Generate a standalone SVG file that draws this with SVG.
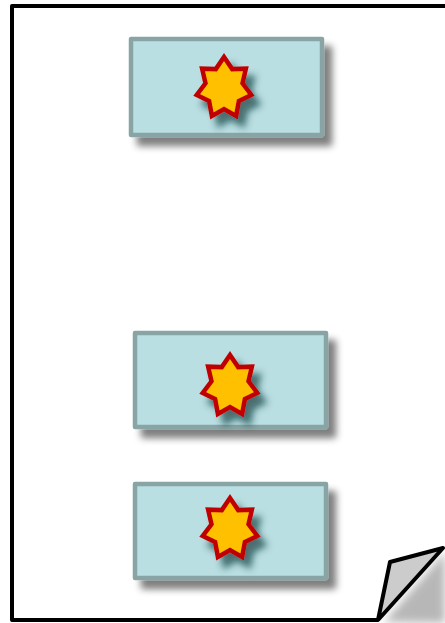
<svg xmlns="http://www.w3.org/2000/svg" width="445" height="623" viewBox="0 0 445 623">
<defs>
<style>
.box{fill:#b9dfe3;stroke:#88a4a4;stroke-width:4.5;stroke-linejoin:round}
.star{fill:#ffc000;stroke:#c00000;stroke-width:4.5;stroke-linejoin:miter}
.page{fill:none;stroke:#000;stroke-width:4;stroke-linejoin:round}
</style>
<filter id="sh" x="-20%" y="-20%" width="150%" height="160%">
<feGaussianBlur in="SourceAlpha" stdDeviation="3.5"/>
<feOffset dx="8" dy="9" result="b"/>
<feFlood flood-color="#000" flood-opacity="0.5"/>
<feComposite in2="b" operator="in"/>
<feMerge><feMergeNode/><feMergeNode in="SourceGraphic"/></feMerge>
</filter>
<filter id="sh2" x="-40%" y="-40%" width="190%" height="190%">
<feGaussianBlur in="SourceAlpha" stdDeviation="3.5"/>
<feOffset dx="7" dy="9" result="b"/>
<feFlood flood-color="#0b3333" flood-opacity="0.65"/>
<feComposite in2="b" operator="in"/>
<feMerge><feMergeNode/><feMergeNode in="SourceGraphic"/></feMerge>
</filter>
<filter id="fs" x="-50%" y="-50%" width="200%" height="200%">
<feGaussianBlur stdDeviation="4"/>
</filter>
<path id="starp" d="M0,-31 L8.2,-18.9 L21.9,-19.3 L18.5,-4.7 L27.3,6.9 L14.9,13.1 L12.1,27.9 L0,21 L-12.1,27.9 L-14.9,13.1 L-27.3,6.9 L-18.5,-4.7 L-21.9,-19.3 L-8.2,-18.9 Z"/>
</defs>
<rect width="445" height="623" fill="#fff"/>
<g id="page">
<polygon points="384,622 445,552 445,623" fill="#888" opacity="0.6" filter="url(#fs)"/>
<path class="page" d="M447,6 L12,6 L12,620 L378,620"/>
<polygon points="378,620 390,562 443,548" fill="#cccccc" stroke="#000" stroke-width="4" stroke-linejoin="round"/>
</g>
<g id="node1">
<rect class="box" x="131" y="39" width="191" height="96" filter="url(#sh)"/>
<use href="#starp" class="star" transform="translate(224,88)" filter="url(#sh2)"/>
</g>
<g id="node2">
<rect class="box" x="135" y="333" width="191" height="94" filter="url(#sh)"/>
<use href="#starp" class="star" transform="translate(230,386)" filter="url(#sh2)"/>
</g>
<g id="node3">
<rect class="box" x="135" y="484" width="191" height="94" filter="url(#sh)"/>
<use href="#starp" class="star" transform="translate(230,529)" filter="url(#sh2)"/>
</g>
<g id="connectors"/>
</svg>
